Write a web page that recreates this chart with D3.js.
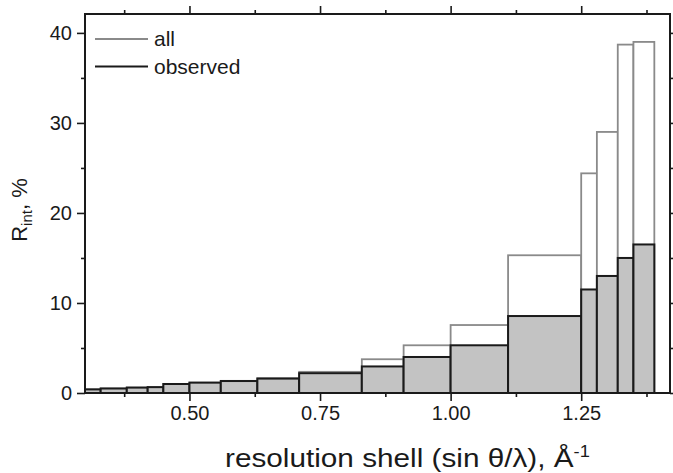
<!DOCTYPE html>
<html><head><meta charset="utf-8">
<script src="https://cdn.jsdelivr.net/npm/d3@7"></script>
<style>
html,body{margin:0;padding:0;background:#fff;}
svg{display:block;}
text{font-family:"Liberation Sans",Arial,sans-serif;fill:#1a1a1a;}
</style></head>
<body>
<svg id="chart" width="673" height="473"></svg>
<script>
// bin edges of resolution shells (sin θ/λ, Å^-1)
const binEdges = [0.30,0.33,0.38,0.42,0.45,0.50,0.56,0.63,0.71,0.83,0.91,1.00,1.11,1.25,1.28,1.32,1.35,1.39];
// R_int (%) per shell
const allValues      = [0.4,0.5,0.6,0.65,1.0,1.15,1.35,1.65,2.35,3.75,5.3,7.55,15.3,24.4,29.0,38.7,39.0];
const observedValues = [0.4,0.5,0.6,0.65,1.0,1.15,1.33,1.6,2.2,2.95,4.0,5.3,8.55,11.5,13.0,15.0,16.5];
const xMajorTicks = [0.50,0.75,1.00,1.25];
const xMinorTicks = [0.375,0.625,0.875,1.125,1.375];
const yMajorTicks = [0,10,20,30,40];
const yMinorTicks = [5,15,25,35];
const seriesNames = ["all","observed"];

const svg = d3.select("#chart");
const L=85,R=670,T=14,B=393;
const x = d3.scaleLinear().domain([0.30,1.42]).range([L,R]);
const y = d3.scaleLinear().domain([0,42.1]).range([B,T]);

const bins = allValues.map((v,i)=>({x0:binEdges[i],x1:binEdges[i+1],all:v,obs:observedValues[i]}));

// all bars (outline)
svg.append("g").selectAll("rect").data(bins).join("rect")
  .attr("x",d=>x(d.x0)).attr("width",d=>x(d.x1)-x(d.x0))
  .attr("y",d=>y(d.all)).attr("height",d=>y(0)-y(d.all))
  .attr("fill","#fff").attr("stroke","#8a8a8a").attr("stroke-width",1.8);

// observed bars
svg.append("g").selectAll("rect").data(bins).join("rect")
  .attr("x",d=>x(d.x0)).attr("width",d=>x(d.x1)-x(d.x0))
  .attr("y",d=>y(d.obs)).attr("height",d=>y(0)-y(d.obs))
  .attr("fill","#c3c3c3").attr("stroke","#1a1a1a").attr("stroke-width",2);

// axes
function styleAxis(g){g.select(".domain").remove();g.selectAll("line").attr("stroke","#1a1a1a").attr("stroke-width",1.6);
  g.selectAll("text").style("font-size","20px").attr("fill","#1a1a1a");}
svg.append("g").attr("transform",`translate(0,${B})`)
  .call(d3.axisBottom(x).tickValues(xMajorTicks).tickSize(8).tickPadding(5).tickFormat(d3.format(".2f"))).call(styleAxis);
svg.append("g").attr("transform",`translate(0,${B})`)
  .call(d3.axisBottom(x).tickValues(xMinorTicks).tickSize(4).tickFormat("")).call(styleAxis);
svg.append("g").attr("transform",`translate(0,${T})`)
  .call(d3.axisTop(x).tickValues(xMajorTicks).tickSize(8).tickFormat("")).call(styleAxis);
svg.append("g").attr("transform",`translate(0,${T})`)
  .call(d3.axisTop(x).tickValues(xMinorTicks).tickSize(4).tickFormat("")).call(styleAxis);
svg.append("g").attr("transform",`translate(${L},0)`)
  .call(d3.axisLeft(y).tickValues(yMajorTicks).tickSize(8).tickPadding(5).tickFormat(d3.format("d"))).call(styleAxis);
svg.append("g").attr("transform",`translate(${L},0)`)
  .call(d3.axisLeft(y).tickValues(yMinorTicks).tickSize(4).tickFormat("")).call(styleAxis);
svg.append("g").attr("transform",`translate(${R},0)`)
  .call(d3.axisRight(y).tickValues(yMajorTicks).tickSize(6).tickFormat("")).call(styleAxis);
svg.append("g").attr("transform",`translate(${R},0)`)
  .call(d3.axisRight(y).tickValues(yMinorTicks).tickSize(4).tickFormat("")).call(styleAxis);

// frame
svg.append("rect").attr("x",L).attr("y",T).attr("width",R-L).attr("height",B-T)
  .attr("fill","none").attr("stroke","#1a1a1a").attr("stroke-width",2);

// legend
const leg = svg.append("g");
const legColors = ["#8a8a8a","#1a1a1a"];
seriesNames.forEach((n,i)=>{
  const yy = 39 + i*27.5;
  leg.append("line").attr("x1",95).attr("x2",148).attr("y1",yy).attr("y2",yy)
    .attr("stroke",legColors[i]).attr("stroke-width",2);
  leg.append("text").attr("x",154).attr("y",yy+7).style("font-size","21px").text(n);
});

// x title (horizontally stretched like the reference)
const xt = svg.append("text").attr("x",0).attr("y",0).style("font-size","26px");
xt.append("tspan").text("resolution shell (sin θ/λ), Å");
xt.append("tspan").attr("dy",-10).style("font-size","16px").text("-1");
const w = xt.node().getComputedTextLength();
xt.attr("transform",`translate(225,467) scale(${365/w},1)`);

// y title
const yt = svg.append("text").attr("transform","translate(27,210) rotate(-90)")
  .attr("text-anchor","middle").style("font-size","22px");
yt.append("tspan").text("R");
yt.append("tspan").attr("dy",5).style("font-size","15px").text("int");
yt.append("tspan").attr("dy",-5).text(", %");
</script>
</body></html>
